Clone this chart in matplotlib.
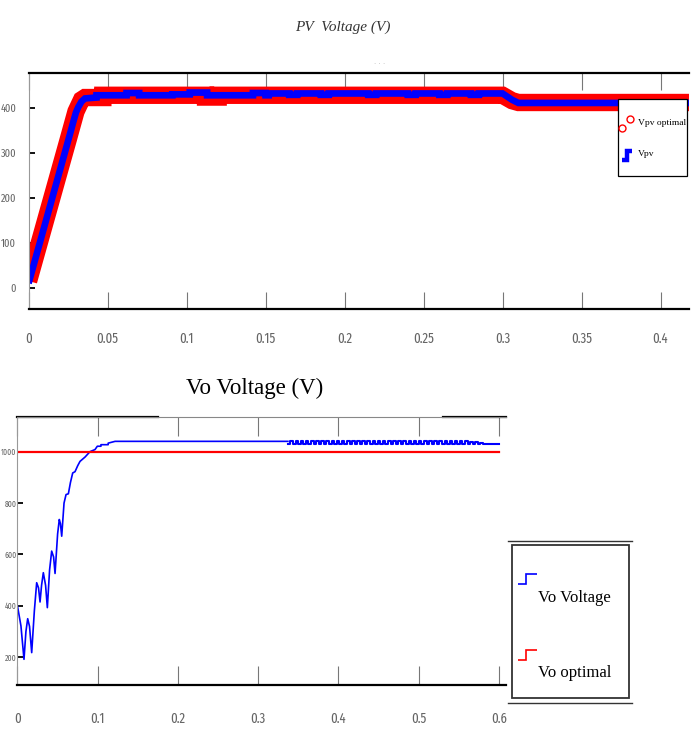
import matplotlib
matplotlib.use("Agg")
import matplotlib.pyplot as plt
from matplotlib.lines import Line2D
from matplotlib.patches import Rectangle
from matplotlib.legend_handler import HandlerBase
from matplotlib import font_manager as fm

# ---------------- data: PV voltage (top) ----------------
vpv_t = [0.0, 0.0251, 0.0283, 0.0300, 0.0315, 0.0335, 0.0357, 0.0430, 0.0430, 0.0620, 0.0620,
         0.0700, 0.0700, 0.0910, 0.0910, 0.1020, 0.1020, 0.1130, 0.1130, 0.1420, 0.1420, 0.1500,
         0.1500, 0.1520, 0.1520, 0.1650, 0.1650, 0.1700, 0.1700, 0.1850, 0.1850, 0.1900, 0.1900,
         0.2150, 0.2150, 0.2200, 0.2200, 0.2400, 0.2400, 0.2450, 0.2450, 0.2600, 0.2600, 0.2650,
         0.2650, 0.2800, 0.2800, 0.2850, 0.2850, 0.3000, 0.3030, 0.3060, 0.3100, 0.4180]
vpv_v = [11, 328, 369, 390, 402, 414, 421, 423, 428, 428, 433,
         433, 428, 428, 430, 430, 434, 434, 428, 428, 433, 433,
         428, 428, 432, 432, 429, 429, 432, 432, 429, 429, 432,
         432, 429, 429, 432, 432, 429, 429, 432, 432, 429, 429,
         432, 432, 429, 429, 432, 432, 425, 418, 411, 411]

vopt_t = [0.0, 0.0251, 0.0300, 0.0335, 0.0357, 0.0470, 0.0470, 0.1120, 0.1120, 0.1200, 0.1200,
          0.3000, 0.3030, 0.3060, 0.3100, 0.4180]
vopt_v = [16, 330, 392, 418, 423, 423, 428, 428, 424, 424, 428,
          428, 422, 416, 412, 412]

pv_xticks = [0, 0.05, 0.1, 0.15, 0.2, 0.25, 0.3, 0.35, 0.4]
pv_xlabels = ["0", "0.05", "0.1", "0.15", "0.2", "0.25", "0.3", "0.35", "0.4"]
pv_yticks = [0, 100, 200, 300, 400]

# ---------------- data: output voltage (bottom) ----------------
vo_t = [0.0, 0.0043, 0.0081, 0.0105, 0.0127, 0.0150, 0.0177, 0.0210, 0.0239, 0.0262, 0.0281,
        0.0300, 0.0322, 0.0350, 0.0372, 0.0400, 0.0426, 0.0450, 0.0468, 0.0500, 0.0521, 0.0535,
        0.0551, 0.0580, 0.0605, 0.0634, 0.0660, 0.0688, 0.0717, 0.0750, 0.0779, 0.0842, 0.0904,
        0.0966, 0.0995, 0.1040, 0.1040, 0.1130, 0.1130, 0.1216, 0.3370]
vo_v = [399, 322, 192, 300, 350, 320, 218, 380, 490, 470, 415,
        480, 529, 480, 393, 540, 613, 590, 526, 680, 736, 720,
        671, 800, 833, 836, 880, 917, 922, 945, 962, 979, 1000,
        1008, 1021, 1021, 1027, 1027, 1033, 1040, 1040]

vo_osc_t = [0.3370, 0.3402, 0.3434, 0.3466, 0.3498, 0.3530, 0.3562, 0.3594, 0.3626, 0.3658,
            0.3690, 0.3722, 0.3754, 0.3786, 0.3818, 0.3850, 0.3882, 0.3914, 0.3946, 0.3978,
            0.4010, 0.4042, 0.4074, 0.4106, 0.4138, 0.4170, 0.4202, 0.4234, 0.4266, 0.4298,
            0.4330, 0.4362, 0.4394, 0.4426, 0.4458, 0.4490, 0.4522, 0.4554, 0.4586, 0.4618,
            0.4650, 0.4682, 0.4714, 0.4746, 0.4778, 0.4810, 0.4842, 0.4874, 0.4906, 0.4938,
            0.4970, 0.5002, 0.5034, 0.5066, 0.5098, 0.5130, 0.5162, 0.5194, 0.5226, 0.5258,
            0.5290, 0.5322, 0.5354, 0.5386, 0.5418, 0.5450, 0.5482, 0.5514, 0.5546, 0.5578,
            0.5610, 0.5642, 0.5674, 0.5706, 0.5738, 0.5770, 0.5802, 0.5834, 0.6000]
vo_osc_v = [1029, 1041, 1029, 1041, 1029, 1041, 1029, 1041, 1029, 1041,
            1029, 1041, 1029, 1041, 1029, 1041, 1029, 1041, 1029, 1041,
            1029, 1041, 1029, 1041, 1029, 1041, 1029, 1041, 1029, 1041,
            1029, 1041, 1029, 1041, 1029, 1041, 1029, 1041, 1029, 1041,
            1029, 1041, 1029, 1041, 1029, 1041, 1029, 1041, 1029, 1041,
            1029, 1041, 1029, 1041, 1029, 1041, 1029, 1041, 1029, 1041,
            1029, 1041, 1029, 1041, 1029, 1041, 1029, 1041, 1029, 1041,
            1029, 1036, 1029, 1036, 1029, 1034, 1029, 1029, 1029]

vo_opt_t = [0.0, 0.6]
vo_opt_v = [1000, 1000]

vo_xticks = [0, 0.1, 0.2, 0.3, 0.4, 0.5, 0.6]
vo_xlabels = ["0", "0.1", "0.2", "0.3", "0.4", "0.5", "0.6"]
vo_yticks = [200, 400, 600, 800, 1000]

# ---------------- styling ----------------
TICK_FAMILY = ["Fira Sans Extra Condensed", "DejaVu Sans"]
SERIF = "Liberation Serif"
GRAY = "#666666"

fig = plt.figure(figsize=(6.97, 7.31), dpi=100)


class HandlerStep(HandlerBase):
    def __init__(self, lw, xs=(0.0, 0.45, 0.45, 1.0), y0f=0.0, y1f=0.55, **kw):
        super().__init__(**kw)
        self.lw = lw
        self.xs = xs
        self.y0f = y0f
        self.y1f = y1f

    def create_artists(self, legend, orig_handle, xdescent, ydescent, width, height, fontsize, trans):
        x0 = -xdescent
        yb = -ydescent + self.y0f * height
        yt = -ydescent + self.y1f * height
        xs = [x0 + f * width for f in self.xs]
        ys = [yb, yb, yt, yt]
        ln = Line2D(xs, ys, color=orig_handle.get_color(), lw=self.lw, transform=trans,
                    solid_joinstyle="miter", solid_capstyle="butt")
        return [ln]


class HandlerTwoCircles(HandlerBase):
    def create_artists(self, legend, orig_handle, xdescent, ydescent, width, height, fontsize, trans):
        x0 = -xdescent
        y0 = -ydescent
        ln = Line2D([x0 + width * 0.2, x0 + width * 0.85], [y0 + height * 0.08, y0 + height * 0.7],
                    linestyle="none", marker="o", mfc="none", mec="red", ms=5, mew=1.0,
                    transform=trans)
        return [ln]


def style_ticklabels(ax):
    for lab in ax.get_xticklabels() + ax.get_yticklabels():
        lab.set_fontproperties(fm.FontProperties(family=TICK_FAMILY, size=lab.get_fontsize()))


# ================= top axes =================
ax1 = fig.add_axes([0.041, 0.5773, 0.9475, 0.3232])
l_opt, = ax1.plot(vopt_t, vopt_v, color="#ff0000", lw=12.5, solid_capstyle="butt",
                  solid_joinstyle="miter", label="Vpv optimal")
l_pv, = ax1.plot(vpv_t, vpv_v, color="#0000ff", lw=4.8, solid_capstyle="butt",
                 solid_joinstyle="miter", label="Vpv")
ax1.set_xlim(0, 0.418)
ax1.set_ylim(-46, 478)
ax1.set_xticks(pv_xticks, pv_xlabels)
ax1.set_yticks(pv_yticks)
ax1.tick_params(axis="x", direction="in", length=12, width=0.8, color="#777777",
                top=True, bottom=True, pad=16, labelsize=10, labelcolor=GRAY)
ax1.tick_params(axis="y", direction="in", length=4, width=1.3, color="black",
                pad=9, labelsize=8, labelcolor=GRAY)
style_ticklabels(ax1)
ax1.spines["right"].set_visible(False)
ax1.spines["left"].set_color("#999999")
ax1.spines["left"].set_linewidth(0.8)
for s in ("top", "bottom"):
    ax1.spines[s].set_color("black")
    ax1.spines[s].set_linewidth(1.6)

# legend box (frame) and legend entries
ax1.add_patch(Rectangle((0.892, 0.564), 0.1045, 0.323, transform=ax1.transAxes,
                        facecolor="white", edgecolor="black", lw=0.9, zorder=5))
leg1 = fig.legend(handles=[l_opt, l_pv], labels=["Vpv optimal", "Vpv"],
                  handler_map={l_opt: HandlerTwoCircles(),
                               l_pv: HandlerStep(lw=3.2, xs=(0.2, 0.6, 0.6, 0.95),
                                                 y0f=0.0, y1f=0.6)},
                  loc="upper left", bbox_to_anchor=(0.8895, 0.8435),
                  prop={"family": SERIF, "size": 6.8}, frameon=False,
                  handlelength=1.3, handleheight=2.0, handletextpad=0.6,
                  labelspacing=1.75, borderpad=0, borderaxespad=0)
leg1.set_zorder(6)

fig.text(0.492, 0.963, "PV  Voltage (V)", ha="center", va="center", family=SERIF,
         style="italic", fontsize=11, color="#333333")
fig.text(0.545, 0.912, "· · ·", ha="center", va="center", fontsize=5, color="#bbbbbb")

# ================= bottom axes =================
ax2 = fig.add_axes([0.0251, 0.0629, 0.7005, 0.3671])
l_vo, = ax2.plot(vo_t, vo_v, color="#0000ff", lw=1.2, label="Vo Voltage")
ax2.plot(vo_osc_t, vo_osc_v, color="#0000ff", lw=1.5, drawstyle="steps-post")
l_vopt, = ax2.plot(vo_opt_t, vo_opt_v, color="#ff0000", lw=1.6, label="Vo optimal")
ax2.set_xlim(0, 0.6085)
ax2.set_ylim(92, 1136)
ax2.set_xticks(vo_xticks, vo_xlabels)
ax2.set_yticks(vo_yticks)
ax2.tick_params(axis="x", direction="in", length=14, width=0.8, color="#777777",
                top=True, bottom=True, pad=19, labelsize=10, labelcolor=GRAY)
ax2.tick_params(axis="y", direction="in", length=4, width=1.3, color="black",
                pad=0.8, labelsize=6, labelcolor=GRAY)
style_ticklabels(ax2)
ax2.spines["right"].set_visible(False)
ax2.spines["left"].set_color("#999999")
ax2.spines["left"].set_linewidth(0.8)
ax2.spines["bottom"].set_color("black")
ax2.spines["bottom"].set_linewidth(1.6)
ax2.spines["top"].set_color("#888888")
ax2.spines["top"].set_linewidth(0.8)
ax2.axhline(1136, xmin=0, xmax=0.287, color="black", lw=1.6, clip_on=False)
ax2.axhline(1136, xmin=0.872, xmax=1.0, color="black", lw=1.6, clip_on=False)

fig.text(0.365, 0.469, "Vo Voltage (V)", ha="center", va="center", family=SERIF,
         fontsize=16.5, color="black")

# legend for bottom plot (frame drawn separately)
fig.add_artist(Rectangle((0.7346, 0.0451), 0.1678, 0.2093, transform=fig.transFigure,
                         fill=False, edgecolor="#333333", lw=1.3))
fig.add_artist(Line2D([0.729, 0.907], [0.2599, 0.2599], transform=fig.transFigure,
                      color="#333333", lw=1.0))
fig.add_artist(Line2D([0.729, 0.907], [0.0383, 0.0383], transform=fig.transFigure,
                      color="#333333", lw=1.0))
leg2 = fig.legend(handles=[l_vo, l_vopt], labels=["Vo Voltage", "Vo optimal"],
                  handler_map={l_vo: HandlerStep(lw=1.2, xs=(0.18, 0.55, 0.55, 1.05),
                                                 y0f=1.28, y1f=1.95),
                               l_vopt: HandlerStep(lw=1.2, xs=(0.18, 0.55, 0.55, 1.05),
                                                   y0f=1.28, y1f=1.95)},
                  loc="upper left", bbox_to_anchor=(0.738, 0.195),
                  prop={"family": SERIF, "size": 12}, frameon=False,
                  handlelength=1.3, handleheight=1.0, handletextpad=0.1,
                  labelspacing=3.5, borderpad=0, borderaxespad=0)

fig.savefig("out.png", dpi=100)
